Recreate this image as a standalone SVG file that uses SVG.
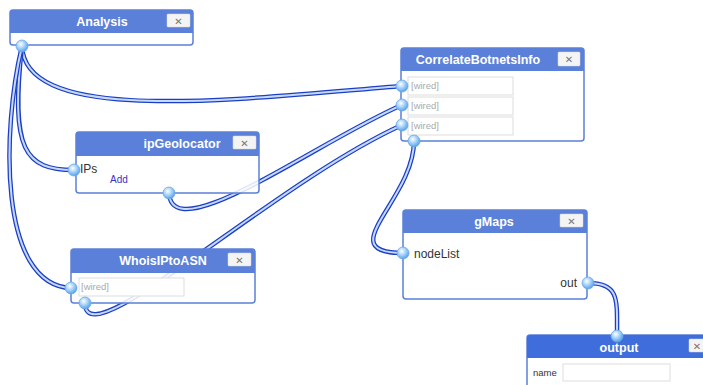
<svg xmlns="http://www.w3.org/2000/svg" width="703" height="385" viewBox="0 0 703 385">
  <defs>
    <radialGradient id="portFill" cx="0.4" cy="0.35" r="0.7">
      <stop offset="0" stop-color="#ffffff"/>
      <stop offset="0.45" stop-color="#a9d4fb"/>
      <stop offset="1" stop-color="#4a9be6"/>
    </radialGradient>
  </defs>
  <style>
    .hdr { fill: #5b80d9; }
    .hdr-out { fill: #3f6ddb; }
    .body { fill: #ffffff; fill-opacity: 0.85; stroke: #5b80d9; stroke-width: 1.5; }
    .title { font-family: "Liberation Sans", Arial, sans-serif; font-weight: bold; font-size: 12.5px; fill: #ffffff; text-anchor: middle; }
    .close { fill: #f4f4f4; stroke: #d8d8d8; stroke-width: 0.5; }
    .x { font-family: "DejaVu Sans", sans-serif; font-size: 10px; fill: #777777; text-anchor: middle; font-weight: bold; }
    .field { fill: #ffffff; stroke: #dddddd; stroke-width: 1; }
    .ph { font-family: "Liberation Sans", Arial, sans-serif; font-size: 9.5px; fill: #aaaaaa; }
    .lbl { font-family: "Liberation Sans", Arial, sans-serif; font-size: 12px; fill: #333333; }
    .small { font-family: "Liberation Sans", Arial, sans-serif; font-size: 9.5px; fill: #333333; }
    .add { font-family: "Liberation Sans", Arial, sans-serif; font-size: 10px; fill: #3a30c8; }
    .wire-o { fill: none; stroke: #1a3fc4; stroke-width: 4.5; stroke-linecap: round; }
    .wire-i { fill: none; stroke: #c7d8ff; stroke-width: 2; stroke-linecap: round; }
    .port { fill: url(#portFill); stroke: #6ca8e8; stroke-width: 0.8; }
  </style>

  <!-- connectors -->
  <g id="connectors">
    <g id="w1"><path class="wire-o" d="M22,46 C25,125 230,100 402,86"/><path class="wire-i" d="M22,46 C25,125 230,100 402,86"/></g>
    <g id="w2"><path class="wire-o" d="M22,46 C10,150 25,170 74,170"/><path class="wire-i" d="M22,46 C10,150 25,170 74,170"/></g>
    <g id="w3"><path class="wire-o" d="M22,46 C2,130 -2,285 71,288"/><path class="wire-i" d="M22,46 C2,130 -2,285 71,288"/></g>
    <g id="w4"><path class="wire-o" d="M169,193 C172,250 320,140 402,105"/><path class="wire-i" d="M169,193 C172,250 320,140 402,105"/></g>
    <g id="w5"><path class="wire-o" d="M85,303 C85,360 270,185 402,125"/><path class="wire-i" d="M85,303 C85,360 270,185 402,125"/></g>
    <g id="w6"><path class="wire-o" d="M414,141 C414,200 330,253 403,253"/><path class="wire-i" d="M414,141 C414,200 330,253 403,253"/></g>
    <g id="w7"><path class="wire-o" d="M588,283 C620,283 617,300 617,336"/><path class="wire-i" d="M588,283 C620,283 617,300 617,336"/></g>
  </g>

  <!-- Analysis -->
  <g id="analysis">
    <rect class="body" x="10" y="10" width="183" height="35" rx="3"/>
    <path class="hdr" d="M10,33 V13 A3,3 0 0 1 13,10 H190 A3,3 0 0 1 193,13 V33 Z"/>
    <text class="title" x="102" y="26">Analysis</text>
    <rect class="close" x="167" y="14" width="23" height="13" rx="1"/>
    <text class="x" x="178.5" y="24.5">✕</text>
    <circle class="port" cx="22" cy="46" r="6"/>
  </g>

  <!-- CorrelateBotnetsInfo -->
  <g id="correlate">
    <rect class="body" x="401" y="48" width="183" height="93" rx="3"/>
    <path class="hdr" d="M401,71 V51 A3,3 0 0 1 404,48 H581 A3,3 0 0 1 584,51 V71 Z"/>
    <text class="title" x="478" y="64">CorrelateBotnetsInfo</text>
    <rect class="close" x="558" y="52" width="22" height="14" rx="1"/>
    <text class="x" x="569" y="63">✕</text>
    <rect class="field" x="408" y="77" width="105" height="18"/>
    <rect class="field" x="408" y="97" width="105" height="18"/>
    <rect class="field" x="408" y="117" width="105" height="18"/>
    <text class="ph" x="411" y="89">[wired]</text>
    <text class="ph" x="411" y="109">[wired]</text>
    <text class="ph" x="411" y="129">[wired]</text>
    <circle class="port" cx="402" cy="86" r="6"/>
    <circle class="port" cx="402" cy="105" r="6"/>
    <circle class="port" cx="402" cy="125" r="6"/>
    <circle class="port" cx="414" cy="141" r="6"/>
  </g>

  <!-- ipGeolocator -->
  <g id="ipgeolocator">
    <rect class="body" x="76" y="132" width="183" height="61" rx="3"/>
    <path class="hdr" d="M76,156 V135 A3,3 0 0 1 79,132 H256 A3,3 0 0 1 259,135 V156 Z"/>
    <text class="title" x="182" y="148">ipGeolocator</text>
    <rect class="close" x="233" y="136" width="23" height="13" rx="1"/>
    <text class="x" x="244.5" y="146.5">✕</text>
    <text class="lbl" x="80" y="173" font-size="11">IPs</text>
    <text class="add" x="110" y="183">Add</text>
    <circle class="port" cx="74" cy="170" r="6"/>
    <circle class="port" cx="169" cy="193" r="6"/>
  </g>

  <!-- WhoisIPtoASN -->
  <g id="whoisiptoasn">
    <rect class="body" x="71" y="249" width="184" height="54" rx="3"/>
    <path class="hdr" d="M71,273 V252 A3,3 0 0 1 74,249 H252 A3,3 0 0 1 255,252 V273 Z"/>
    <text class="title" x="163" y="265">WhoisIPtoASN</text>
    <rect class="close" x="228" y="253" width="23" height="13" rx="1"/>
    <text class="x" x="239.5" y="263.5">✕</text>
    <rect class="field" x="79" y="278" width="105" height="18"/>
    <text class="ph" x="81" y="290">[wired]</text>
    <circle class="port" cx="71" cy="288" r="6"/>
    <circle class="port" cx="85" cy="303" r="6"/>
  </g>

  <!-- gMaps -->
  <g id="gmaps">
    <rect class="body" x="403" y="210" width="184" height="89" rx="3"/>
    <path class="hdr" d="M403,233 V213 A3,3 0 0 1 406,210 H584 A3,3 0 0 1 587,213 V233 Z"/>
    <text class="title" x="494" y="226">gMaps</text>
    <rect class="close" x="560" y="214" width="23" height="13" rx="1"/>
    <text class="x" x="571.5" y="224.5">✕</text>
    <text class="lbl" x="414" y="258">nodeList</text>
    <text class="lbl" x="577" y="287" text-anchor="end">out</text>
    <circle class="port" cx="403" cy="253" r="6"/>
    <circle class="port" cx="588" cy="283" r="6"/>
  </g>

  <!-- output -->
  <g id="output">
    <rect class="body" x="527" y="335" width="190" height="60" rx="3"/>
    <path class="hdr-out" d="M527,358 V338 A3,3 0 0 1 530,335 H717 V358 Z"/>
    <text class="title" x="619" y="352">output</text>
    <rect class="close" x="689" y="339" width="23" height="13" rx="1"/>
    <text class="x" x="697" y="349.5">✕</text>
    <text class="small" x="533" y="376">name</text>
    <rect class="field" x="563" y="364" width="107" height="17" stroke="#bbbbbb"/>
    <circle class="port" cx="617" cy="336" r="6"/>
  </g>
</svg>
